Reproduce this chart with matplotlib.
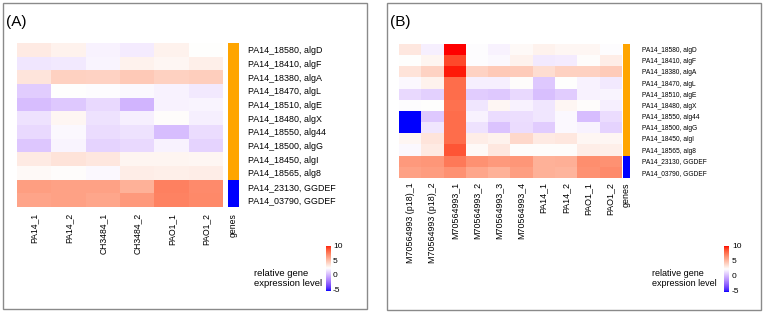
import numpy as np
import matplotlib
matplotlib.use("Agg")
import matplotlib.pyplot as plt
from matplotlib.colors import ListedColormap, Normalize
from matplotlib.patches import Rectangle

plt.rcParams['font.family'] = ['Liberation Sans', 'DejaVu Sans']

# ---------------- data ----------------
genes = ["PA14_18580, algD", "PA14_18410, algF", "PA14_18380, algA", "PA14_18470, algL",
         "PA14_18510, algE", "PA14_18480, algX", "PA14_18550, alg44", "PA14_18500, algG",
         "PA14_18450, algI", "PA14_18565, alg8", "PA14_23130, GGDEF", "PA14_03790, GGDEF"]
gene_group = [0, 0, 0, 0, 0, 0, 0, 0, 0, 0, 1, 1]   # 0 = alg operon, 1 = GGDEF

cols_A = ["PA14_1", "PA14_2", "CH3484_1", "CH3484_2", "PAO1_1", "PAO1_2"]
vals_A = [
    [3.3, 3.0, 2.1, 1.9, 3.0, 2.5],
    [1.7, 1.8, 2.2, 3.0, 2.8, 3.1],
    [3.5, 4.3, 4.2, 4.6, 4.3, 4.4],
    [0.9, 2.5, 2.4, 2.3, 2.1, 1.8],
    [0.4, 0.8, 1.3, 0.1, 2.1, 2.2],
    [1.6, 2.8, 1.6, 2.0, 2.6, 2.0],
    [1.3, 2.3, 1.4, 1.6, 0.4, 1.4],
    [0.7, 2.2, 1.1, 1.3, 2.1, 1.1],
    [3.3, 3.6, 3.4, 2.9, 2.9, 2.8],
    [2.7, 2.6, 2.3, 3.2, 3.1, 3.2],
    [6.2, 6.1, 6.1, 5.5, 7.3, 6.9],
    [6.0, 6.1, 5.9, 6.4, 7.2, 7.0],
]

cols_B = ["M70564993 (p18)_1", "M70564993 (p18)_2", "M70564993_1", "M70564993_2",
          "M70564993_3", "M70564993_4", "PA14_1", "PA14_2", "PAO1_1", "PAO1_2"]
vals_B = [
    [3.4, 2.0, 10.0, 2.4, 2.1, 2.7, 3.0, 2.8, 2.8, 2.4],
    [2.5, 2.9, 9.0, 2.4, 2.3, 3.0, 1.8, 1.9, 2.6, 3.2],
    [3.6, 4.2, 9.8, 4.2, 4.6, 4.5, 3.8, 4.3, 4.3, 4.5],
    [2.3, 3.0, 7.9, 2.0, 2.0, 2.6, 0.8, 2.5, 2.1, 1.8],
    [1.3, 1.0, 7.9, 0.9, 0.8, 1.3, 0.5, 0.9, 2.1, 2.2],
    [2.4, 2.5, 7.8, 1.7, 2.8, 2.1, 1.7, 2.8, 2.6, 2.0],
    [-5.0, 0.8, 7.9, 2.1, 1.4, 1.5, 1.7, 2.3, 0.4, 1.4],
    [-5.0, 1.7, 7.9, 1.6, 0.6, 1.4, 0.9, 2.3, 2.1, 1.1],
    [2.8, 3.5, 7.9, 3.2, 3.0, 4.0, 3.3, 3.4, 2.8, 2.8],
    [2.3, 3.3, 8.6, 2.7, 3.4, 2.6, 2.6, 2.6, 3.2, 3.1],
    [6.4, 6.5, 7.5, 6.7, 6.4, 6.5, 5.5, 5.6, 6.8, 6.7],
    [6.1, 6.3, 6.7, 5.9, 5.5, 6.2, 5.5, 5.4, 6.7, 6.9],
]

vmin, vmax = -5, 10
cbar_ticks = [10, 5, 0, -5]
legend_title = "relative gene\nexpression level"

# ---------------- colour map (Lab interpolation blue-white-red) ----------------
_M = np.array([[0.4124, 0.3576, 0.1805], [0.2126, 0.7152, 0.0722], [0.0193, 0.1192, 0.9505]])
_W = np.array([0.95047, 1.0, 1.08883])


def srgb_to_lab(rgb):
    c = np.asarray(rgb, float)
    lin = np.where(c <= 0.04045, c / 12.92, ((c + 0.055) / 1.055) ** 2.4)
    xyz = _M @ lin / _W
    f = np.where(xyz > 0.008856, np.cbrt(xyz), 7.787 * xyz + 16 / 116)
    return np.array([116 * f[1] - 16, 500 * (f[0] - f[1]), 200 * (f[1] - f[2])])


def lab_to_srgb(lab):
    L, a, b = lab
    fy = (L + 16) / 116
    fx = fy + a / 500
    fz = fy - b / 200
    f = np.array([fx, fy, fz])
    xyz = np.where(f ** 3 > 0.008856, f ** 3, (f - 16 / 116) / 7.787) * _W
    lin = np.linalg.solve(_M, xyz)
    lin = np.clip(lin, 0, 1)
    c = np.where(lin <= 0.0031308, 12.92 * lin, 1.055 * lin ** (1 / 2.4) - 0.055)
    return np.clip(c, 0, 1)


lab_blue = srgb_to_lab([0, 0, 1])
lab_white = srgb_to_lab([1, 1, 1])
lab_red = srgb_to_lab([1, 0, 0])
n = 256
mid = (2.5 - vmin) / (vmax - vmin)
colors = []
for t in np.linspace(0, 1, n):
    if t <= mid:
        u = t / mid
        lab = lab_blue + (lab_white - lab_blue) * u
    else:
        u = (t - mid) / (1 - mid)
        lab = lab_white + (lab_red - lab_white) * u
    colors.append(lab_to_srgb(lab))
cmap = ListedColormap(colors)
norm = Normalize(vmin=vmin, vmax=vmax)
gene_cmap = ListedColormap(["#FFA500", "#0000FF"])

# ---------------- figure ----------------
W, H = 764, 313
fig = plt.figure(figsize=(W / 100, H / 100), dpi=100)


def px_axes(x0, y0, x1, y1):
    return fig.add_axes([x0 / W, 1 - y1 / H, (x1 - x0) / W, (y1 - y0) / H])


def fig_rect(x0, y0, x1, y1):
    fig.patches.append(Rectangle((x0 / W, 1 - y1 / H), (x1 - x0) / W, (y1 - y0) / H,
                                 transform=fig.transFigure, fill=False,
                                 edgecolor="#8a8a8a", linewidth=1.0))


def panel(letter, box, hm, bar, cols, vals, row_fs, col_fs, row_pad, col_pad, cbar, cbar_lab_x, legend_xy, leg_fs):
    fig_rect(*box)
    fig.text((box[0] + 3) / W, 1 - 22 / H, letter, fontsize=11, va="center", ha="left")
    ax = px_axes(*hm)
    ax.imshow(np.array(vals), cmap=cmap, norm=norm, aspect="auto", interpolation="nearest")
    ax.set_yticks([])
    ax.set_xticks(range(len(cols)))
    ax.set_xticklabels(cols, rotation=90, fontsize=col_fs, va="top", ha="center")
    ax.tick_params(axis="x", length=0, pad=col_pad)
    for s in ax.spines.values():
        s.set_visible(False)

    axg = px_axes(*bar)
    axg.imshow(np.array(gene_group)[:, None], cmap=gene_cmap, vmin=0, vmax=1,
               aspect="auto", interpolation="nearest")
    axg.set_xticks([0])
    axg.set_xticklabels(["genes"], rotation=90, fontsize=col_fs, va="top", ha="center")
    axg.tick_params(axis="x", length=0, pad=col_pad)
    axg.yaxis.tick_right()
    axg.set_yticks(range(len(genes)))
    axg.set_yticklabels(genes, fontsize=row_fs)
    axg.tick_params(axis="y", length=0, pad=row_pad)
    for s in axg.spines.values():
        s.set_visible(False)

    cax = px_axes(*cbar)
    grad = np.linspace(vmax, vmin, 200)[:, None]
    cax.imshow(grad, cmap=cmap, norm=norm, aspect="auto",
               extent=[0, 1, vmin - 0.2, vmax + 0.3])
    cax.set_xticks([])
    cax.set_yticks([])
    for s in cax.spines.values():
        s.set_visible(False)
    cax.set_ylim(vmin - 0.2, vmax + 0.3)
    for t in cbar_ticks:
        ypix = cax.transData.transform((0, t))[1]
        fig.text(cbar_lab_x / W, ypix / (H), f"{t}", fontsize=6, va="center", ha="left")
    fig.text(legend_xy[0] / W, 1 - legend_xy[1] / H, legend_title, fontsize=leg_fs,
             ha="left", va="center", linespacing=1.25)


panel("(A)", (3, 3, 367, 309), (17, 43, 223, 207), (228, 43, 239, 207), cols_A, vals_A,
      row_fs=6.4, col_fs=6.2, row_pad=6.5, col_pad=4.3,
      cbar=(326, 246, 331, 291), cbar_lab_x=333, legend_xy=(254, 278.5), leg_fs=6.8)
panel("(B)", (387, 3, 761, 310), (399, 44, 621, 178), (623, 44, 630, 178), cols_B, vals_B,
      row_fs=4.8, col_fs=6.4, row_pad=8.6, col_pad=3.0,
      cbar=(724, 246, 729, 292), cbar_lab_x=732, legend_xy=(652, 278.5), leg_fs=6.5)

fig.savefig("out.png", dpi=100)
